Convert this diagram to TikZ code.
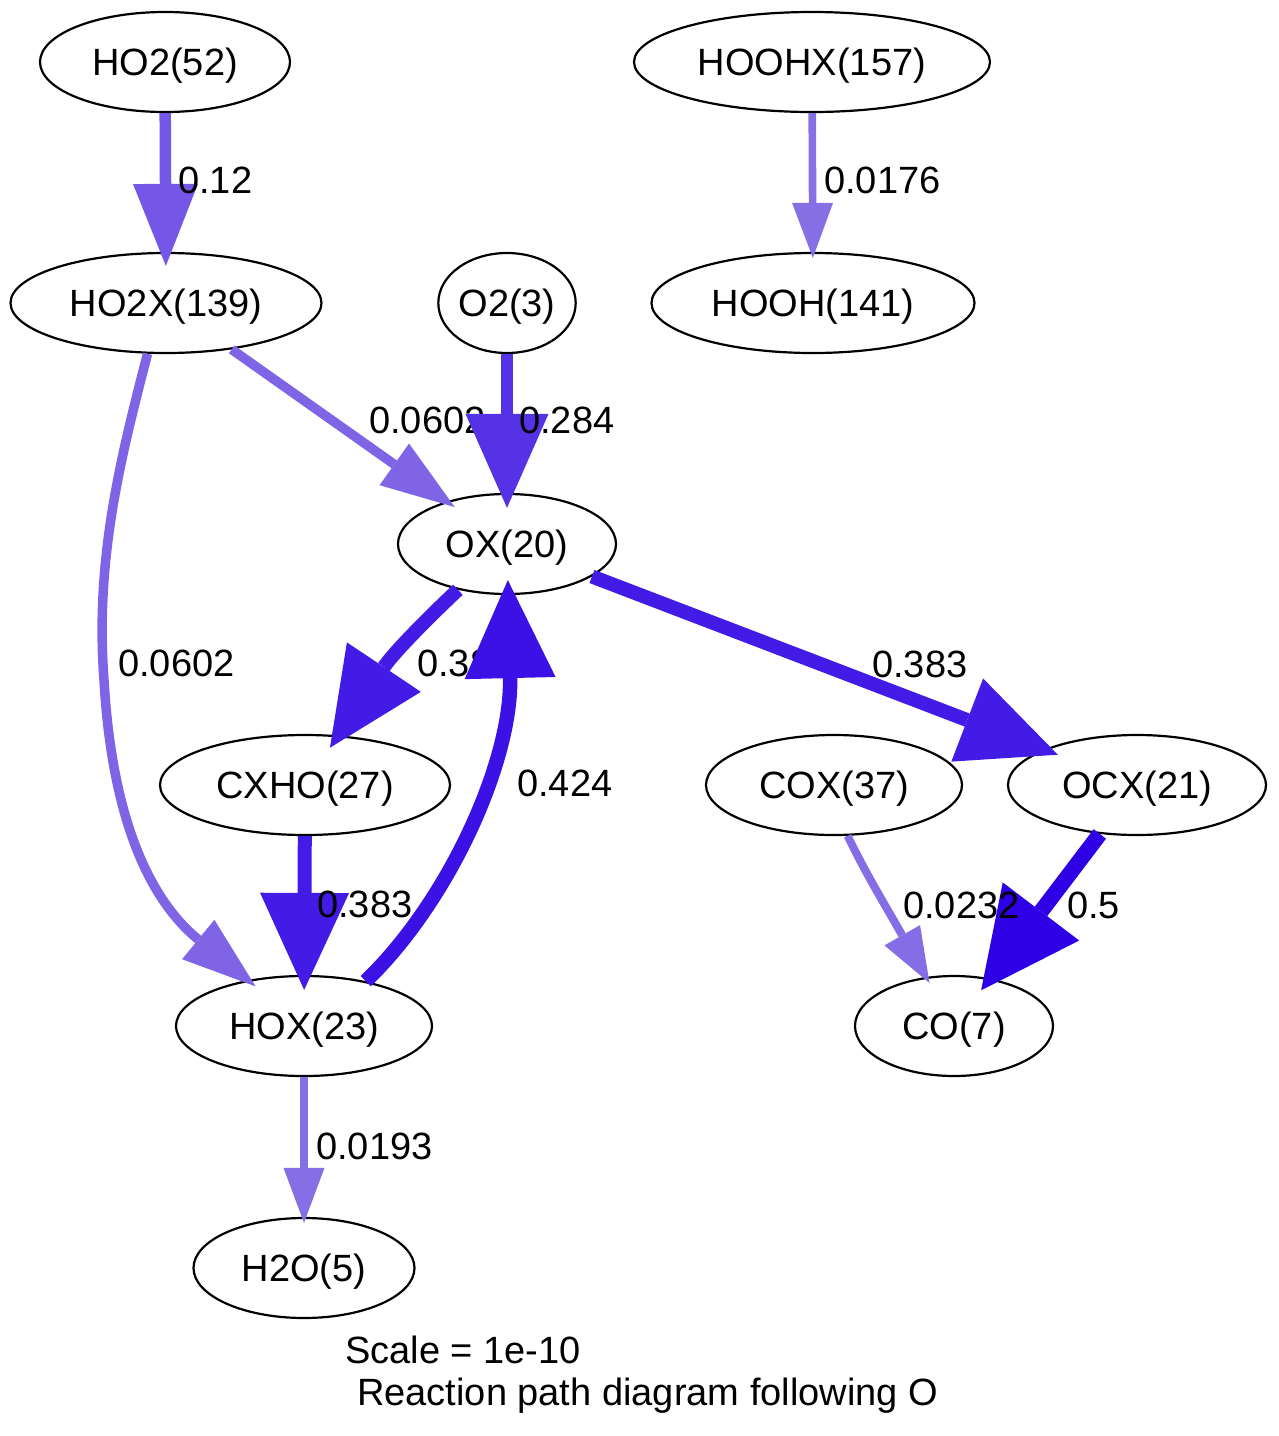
\documentclass[tikz,border=0pt]{standalone}
\usepackage{fontspec}
\setmainfont{Liberation Sans}
\usetikzlibrary{shapes.geometric,arrows.meta}
\definecolor{cA}{RGB}{46,0,230}
\definecolor{cB}{RGB}{60,17,230}
\definecolor{cC}{RGB}{67,27,230}
\definecolor{cD}{RGB}{86,50,230}
\definecolor{cE}{RGB}{116,87,230}
\definecolor{cF}{RGB}{127,101,230}
\definecolor{cG}{RGB}{133,109,230}
\definecolor{cH}{RGB}{134,110,230}
\definecolor{cI}{RGB}{135,111,230}
\begin{document}
\begin{tikzpicture}[x=1pt,y=-1pt,
  sp/.style={ellipse, draw=black, line width=2.2pt, inner sep=0pt, minimum height=100pt,
    text height=27pt, text depth=0pt, font=\fontsize{38}{45}\selectfont},
  lbl/.style={anchor=west, inner sep=0pt, text height=27pt, text depth=0pt, font=\fontsize{38}{45}\selectfont},
  eA/.style={draw=cA, line width=15.6pt, -{Triangle[length=99pt,width=96pt,line width=0pt]}, shorten >=-15pt},
  eB/.style={draw=cB, line width=14.5pt, -{Triangle[length=98pt,width=91pt,line width=0pt]}, shorten >=-15pt},
  eC/.style={draw=cC, line width=14pt, -{Triangle[length=97pt,width=89pt,line width=0pt]}, shorten >=-15pt},
  eD/.style={draw=cD, line width=12.7pt, -{Triangle[length=94pt,width=83pt,line width=0pt]}, shorten >=-15pt},
  eE/.style={draw=cE, line width=11.5pt, -{Triangle[length=82pt,width=65pt,line width=0pt]}, shorten >=-14pt},
  eF/.style={draw=cF, line width=9.5pt, -{Triangle[length=74pt,width=51pt,line width=0pt]}, shorten >=-10pt},
  eG/.style={draw=cG, line width=8pt, -{Triangle[length=55pt,width=41pt,line width=0pt]}, shorten >=-7pt},
  eH/.style={draw=cH, line width=7.7pt, -{Triangle[length=55pt,width=41pt,line width=0pt]}, shorten >=-6pt},
  eI/.style={draw=cI, line width=7.6pt, -{Triangle[length=55pt,width=41pt,line width=0pt]}, shorten >=-6pt}
]
\useasboundingbox (0,0) rectangle (1278,1436);

% nodes
\node[sp, minimum width=250pt] (HO2)   at (165,62)   {HO2(52)};
\node[sp, minimum width=356pt] (HOOHX) at (812,62)   {HOOHX(157)};
\node[sp, minimum width=311pt] (HO2X)  at (166,303)  {HO2X(139)};
\node[sp, minimum width=122pt] (O2)    at (507,303)  {O2(3)};
\node[sp, minimum width=323pt] (HOOH)  at (813,303)  {HOOH(141)};
\node[sp, minimum width=218pt] (OX)    at (507,544)  {OX(20)};
\node[sp, minimum width=290pt] (CXHO)  at (305,785)  {CXHO(27)};
\node[sp, minimum width=256pt] (COX)   at (834,785)  {COX(37)};
\node[sp, minimum width=258pt] (OCX)   at (1137,785) {OCX(21)};
\node[sp, minimum width=256pt] (HOX)   at (304,1026) {HOX(23)};
\node[sp, minimum width=198pt] (CO)    at (954,1026) {CO(7)};
\node[sp, minimum width=221pt] (H2O)   at (304,1268) {H2O(5)};

% edges with labels, in drawing order
\draw[eE] (HO2) -- (HO2X);
\node[lbl] (l1) at (178,180) {0.12};

\draw[eI] (HOOHX) -- (HOOH);
\node[lbl] (l2) at (824,180) {0.0176};

\draw[eF] (HO2X) -- (OX);
\node[lbl] (l3) at (369,420) {0.0602};

\draw[eD] (O2) -- (OX);
\node[lbl] (l4) at (519,420) {0.284};

\draw[eF] (HO2X.250) .. controls (120,460) and (95,560) .. (104,680)
   .. controls (112,820) and (150,900) .. (HOX);
\node[lbl] (l5) at (118,663) {0.0602};

\draw[eC] (OX.223) .. controls (432,614) and (394,652) .. (CXHO);
\node[lbl] (l6) at (417,663) {0.383};

\draw[eB] (HOX.36) .. controls (450,900) and (512,760) .. (OX);
\node[lbl] (l7) at (517,783) {0.424};

\draw[eC] (OX) -- (OCX);
\node[lbl] (l8) at (872,664) {0.383};

\draw[eC] (CXHO) -- (HOX);
\node[lbl] (l9) at (317,904) {0.383};

\draw[eA] (OCX) -- (CO);
\node[lbl] (l10) at (1067,905) {0.5};

\draw[eG] (COX.285) .. controls (865,872) and (885,905) .. (CO);
\node[lbl] (l11) at (903,905) {0.0232};

\draw[eH] (HOX) -- (H2O);
\node[lbl] (l12) at (316,1146) {0.0193};

% footer
\node[lbl] (f1) at (345,1350) {Scale = 1e-10};
\node[lbl] (f2) at (357,1392) {Reaction path diagram following O};
\end{tikzpicture}
\end{document}
